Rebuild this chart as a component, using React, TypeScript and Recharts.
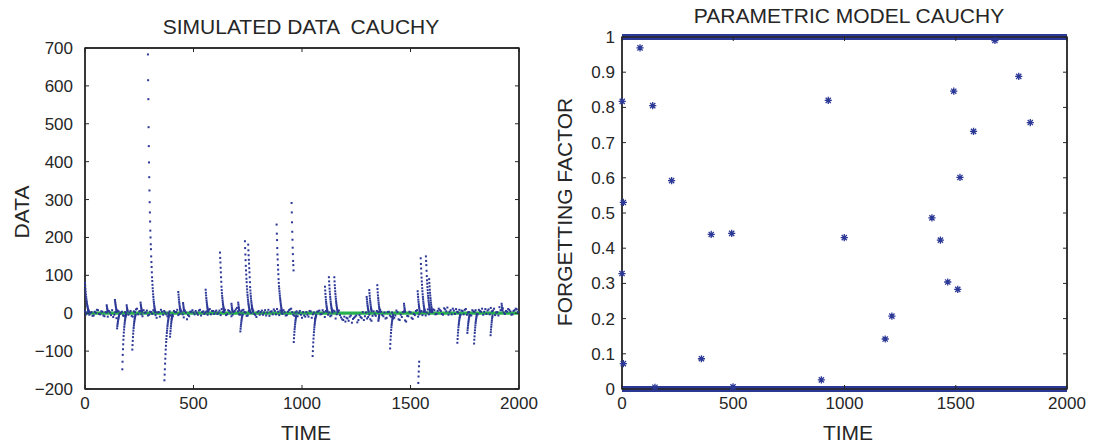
import {
  ComposedChart,
  Line,
  ReferenceArea,
  Scatter,
  XAxis,
  YAxis,
} from "recharts";

const TIME_TICKS = [0, 500, 1000, 1500, 2000];
const DATA_TICKS = [-200, -100, 0, 100, 200, 300, 400, 500, 600, 700];
const FACTOR_TICKS = [0, 0.1, 0.2, 0.3, 0.4, 0.5, 0.6, 0.7, 0.8, 0.9, 1];

// simulated data: the noisy band near zero, readings at t = 0, 10, 20 ...
const baseline = [
  5, 2, -4, 3, -6, 1, 8, -3, 4, -8, 2, 6, -5, -10, 3, 7, -2, 4, -7, 1,
  -4, 6, -9, 3, 12, 5, -3, 8, 2, -6, 4, -2, 6, -12, 3, 9, -4, 2, -8, 5,
  -14, 6, 3, -5, 10, -3, 7, -16, -8, 4, 2, 6, -4, 9, 3, -2, 5, 8, -3, 6,
  4, -2, 7, 11, 3, -5, 8, 2, -4, 6, 14, -3, 5, 9, 2, -6, 4, 12, -2, -10,
  6, 3, -4, 8, 2, -7, 5, 10, -3, 4, 7, -2, 3, -5, 8, 12, -4, 2, -8, 6,
  -12, -6, 3, -9, 5, -3, -15, 4, 7, -2, 3, 6, -4, -8, 2, 5, -3, 7, -11, -18,
  -22, -14, -9, -25, -12, -6, -18, -10, 3, -8, -14, -4, -20, 5, -7, 3, 9, -5, 2, -12,
  4, -9, -14, -6, 3, -18, -10, 5, -22, -8, 2, -15, -5, 8, -3, 6, 4, -6, 10, 5,
  3, 8, -2, 12, 6, -4, 10, 15, 4, -3, 7, 11, 2, -5, 6, 9, -4, 3, -6, 5,
  8, -3, 6, 12, 4, -2, 10, 14, 7, -5, 3, 16, 9, 2, 6, 11, 5, -3, 8, 10,
];
// ... and the readings in between, at t = 5, 15, 25 ...
const baselineMid = [
  -3, 6, 1, -7, 4, 9, -2, 5, -6, 3, -9, 2, 8, -4, -13, 5, 1, -6, 3, 7,
  2, -7, 5, 10, -3, 6, -8, 1, 7, -4, 3, 8, -5, 2, -9, 4, 6, -3, 1, -6,
  -8, 3, 9, -2, 5, -11, 2, -5, 4, 8, -3, 1, 7, -6, 5, 2, -4, 11, 6, -2,
  7, 2, -5, 4, 9, -3, 6, -8, 3, 10, 5, -4, 8, 3, -7, 6, 1, 7, -5, 3,
  -4, 7, 2, -6, 9, 4, -3, 6, 11, -5, 2, 8, -6, 4, 10, 3, -7, 5, 1, -4,
  3, -9, -4, 6, -12, 2, -7, 5, -3, 8, -10, 4, 2, -6, 7, -14, 3, -5, -16, -9,
  -12, -20, -6, -15, -9, -24, -5, -13, -18, 2, -10, -16, -7, -3, 6, -11, 4, -8, -14, 3,
  -6, 2, -12, 7, -16, -4, 3, -19, -7, 4, -12, -2, 6, -9, 3, -5, 8, 2, -3, 7,
  10, -3, 6, 9, -2, 13, 5, -4, 8, 12, -2, 4, 9, 7, -3, 11, 2, -5, 8, 4,
  -2, 9, 4, -4, 11, 7, -3, 5, 12, 2, -6, 8, 13, -2, 4, 9, -4, 6, 12, 3,
];

// outbursts: first time step and the readings that follow it step by step
const spikeStarts = [
  0, 100, 138, 148, 172, 192, 218, 256, 290, 366, 392, 430, 452, 556, 622,
  675, 706, 716, 737, 752, 883, 952, 962, 1049, 1106, 1124, 1149, 1298, 1310,
  1347, 1352, 1406, 1470, 1533, 1536, 1547, 1571, 1586, 1716, 1762, 1793,
  1869, 1920,
];
const spikeValues = [
  [80, 72, 64, 57, 50, 44, 39, 34, 30, 26, 22, 19, 16, 13, 11, 9, 7, 5, 4, 3],
  [21, 17, 13, 10, 7, 5],
  [35, 30, 26, 22, 18, 14, 11, 8, 6, 4],
  [-40, -34, -29, -25, -21, -17, -14, -11, -8, -6],
  [-148, -128, -110, -95, -82, -70, -60, -51, -43, -36, -30, -25, -20, -16, -12, -9, -6, -4],
  [21, 16, 12, 9, 6],
  [-96, -84, -73, -63, -54, -46, -39, -33, -28, -23, -19, -15, -12, -9, -6, -4],
  [28, 23, 19, 15, 12, 9, 6, 4],
  [683, 615, 565, 491, 441, 398, 359, 324, 293, 266, 242, 218, 200, 182, 169, 150, 135, 122, 108, 95, 85, 75, 66, 58, 50, 43, 36, 30, 25, 20, 16, 12, 9, 6, 4, 2],
  [-177, -162, -148, -133, -120, -108, -96, -86, -76, -68, -60, -52, -46, -40, -34, -29, -24, -20, -16, -12, -9, -6, -4],
  [-62, -54, -47, -40, -34, -28, -23, -18, -14, -10, -7, -4],
  [56, 49, 42, 36, 30, 25, 20, 16, 12, 9, 6, 4],
  [27, 22, 17, 13, 9, 6],
  [62, 54, 47, 40, 34, 29, 24, 19, 15, 12, 9, 6, 4],
  [160, 146, 134, 120, 108, 95, 83, 70, 61, 53, 46, 40, 34, 29, 24, 20, 16, 13, 10, 7, 5],
  [25, 20, 15, 11, 8, 5],
  [28, 23, 18, 14, 10, 7],
  [-48, -41, -35, -30, -25, -20, -16, -12, -9, -6, -4],
  [190, 172, 155, 140, 125, 113, 102, 91, 82, 71, 63, 55, 48, 42, 36, 31, 26, 22, 18, 15, 12, 9, 7, 5],
  [181, 166, 153, 141, 131, 119, 108, 95, 82, 69, 60, 52, 45, 39, 33, 28, 23, 19, 15, 12, 9, 6, 4],
  [234, 210, 193, 172, 155, 142, 127, 115, 103, 90, 80, 71, 65, 58, 52, 46, 40, 35, 30, 25, 21, 17, 13, 10, 7, 5],
  [291, 266, 240, 215, 194, 173, 156, 138, 127, 113],
  [-76, -66, -57, -49, -42, -36, -30, -25, -20, -16, -12, -9, -6],
  [-113, -100, -88, -77, -67, -58, -50, -43, -37, -31, -26, -21, -17, -13, -10, -7, -4],
  [70, 60, 51, 43, 36, 30, 25, 20, 16, 12, 9, 6],
  [95, 84, 74, 65, 57, 50, 43, 37, 31, 26, 22, 18, 14, 11, 8, 5],
  [95, 84, 74, 66, 58, 51, 44, 38, 32, 27, 22, 18, 14, 11, 8, 5],
  [43, 37, 31, 26, 21, 17, 13, 10, 7, 4],
  [61, 53, 46, 39, 33, 28, 23, 18, 14, 11, 8, 5],
  [74, 64, 55, 47, 40, 34, 28, 23, 18, 14, 10, 7, 4],
  [-20, -16, -12, -8, -5],
  [-93, -81, -70, -61, -52, -44, -37, -31, -26, -21, -17, -13, -10, -7, -4],
  [25, 20, 15, 11, 7, 4],
  [58, 50, 43, 36, 30, 24, 19, 14, 10, 6],
  [-184, -167, -154, -140, -128],
  [145, 130, 118, 105, 94, 84, 75, 66, 58, 50, 43, 37, 31, 26, 21, 17, 13, 10, 7, 4],
  [150, 138, 127, 112, 98, 87, 78, 69, 61, 53, 46, 40, 34, 29, 24, 20, 16, 12, 9, 6, 4],
  [90, 80, 71, 62, 54, 47, 40, 34, 28, 23, 18, 14, 10, 7, 4],
  [-78, -68, -59, -51, -44, -37, -31, -26, -21, -17, -13, -10, -7, -4],
  [-52, -45, -39, -33, -28, -23, -19, -15, -11, -8, -5],
  [-80, -70, -61, -52, -45, -38, -32, -26, -21, -17, -13, -9, -6],
  [-58, -50, -43, -36, -30, -24, -19, -14, -10, -6],
  [25, 20, 15, 11, 7],
];

// fitted model (green) stays on zero
const modelTimes = [0, 2000];
const modelValues = [0, 0];

// forgetting factor: values away from the 0 / 1 bands
const factorTimes = [
  1, 6, 0, 6, 81, 138, 148, 223, 357, 401, 493, 499, 896, 927, 999, 1183, 1213,
  1393, 1431, 1464, 1491, 1509, 1519, 1580, 1676, 1783, 1835,
];
const factorValues = [
  0.817, 0.53, 0.328, 0.072, 0.969, 0.805, 0.005, 0.592, 0.086, 0.439, 0.442,
  0.006, 0.026, 0.82, 0.43, 0.142, 0.207, 0.486, 0.423, 0.304, 0.846, 0.283,
  0.601, 0.732, 0.99, 0.888, 0.757,
];
// the factor sits at 1 or 0 almost all the time
const bandTimes = [0, 2000];
const upperBand = [1, 1];
const lowerBand = [0, 0];

const simulated = [
  ...baseline.map((v, i) => ({ t: i * 10, v })),
  ...baselineMid.map((v, i) => ({ t: i * 10 + 5, v })),
  ...spikeStarts.flatMap((start, k) =>
    spikeValues[k].map((v, i) => ({ t: start + i, v })),
  ),
];
const model = modelTimes.map((t, i) => ({ t, v: modelValues[i] }));
const factor = factorTimes.map((t, i) => ({ t, v: factorValues[i] }));
const upper = bandTimes.map((t, i) => ({ t, v: upperBand[i] }));
const lower = bandTimes.map((t, i) => ({ t, v: lowerBand[i] }));

const INK = "#262626";
const BLUE = "#2c3896";
const GREEN = "#27b14c";
const FONT = "'Liberation Sans', Arial, sans-serif";
const axisLine = { stroke: INK, strokeWidth: 1.4 };
const tickLine = { stroke: INK, strokeWidth: 1 };
const tickStyle = { fill: INK, fontSize: 17, fontFamily: FONT };

function minus(v: number): string {
  return v < 0 ? `\u2212${-v}` : String(v);
}

function SimDot(props: any) {
  return (
    <rect x={props.cx - 1} y={props.cy - 1} width={2} height={2} fill={BLUE} />
  );
}

function Star(props: any) {
  const { cx, cy } = props;
  const r = 3.6;
  const d = 2.6;
  return (
    <path
      d={`M${cx - r},${cy}H${cx + r}M${cx},${cy - r}V${cy + r}M${cx - d},${cy - d}L${cx + d},${cy + d}M${cx - d},${cy + d}L${cx + d},${cy - d}`}
      stroke={BLUE}
      strokeWidth={1.3}
      fill="none"
    />
  );
}

function Hidden() {
  return <g />;
}

export default function App() {
  return (
    <div
      style={{
        position: "absolute",
        left: 0,
        top: 0,
        width: 1096,
        height: 444,
        background: "#fff",
      }}
    >
      <div style={{ position: "absolute", left: 0, top: 0 }}>
        <ComposedChart
          width={548}
          height={444}
          margin={{ top: 47, right: 28, bottom: 0, left: 0 }}
        >
          <XAxis
            xAxisId="b"
            type="number"
            dataKey="t"
            domain={[0, 2000]}
            ticks={TIME_TICKS}
            height={55}
            tickSize={-4}
            tickMargin={12}
            axisLine={axisLine}
            tickLine={tickLine}
            tick={tickStyle}
          />
          <XAxis
            xAxisId="top"
            type="number"
            dataKey="t"
            orientation="top"
            domain={[0, 2000]}
            ticks={TIME_TICKS}
            height={1}
            tickSize={-4}
            axisLine={axisLine}
            tickLine={tickLine}
            tickFormatter={() => ""}
          />
          <YAxis
            yAxisId="l"
            type="number"
            dataKey="v"
            domain={[-200, 700]}
            ticks={DATA_TICKS}
            width={85}
            tickSize={-4}
            tickMargin={16}
            axisLine={axisLine}
            tickLine={tickLine}
            tick={tickStyle}
            tickFormatter={minus}
          />
          <YAxis
            yAxisId="r"
            type="number"
            dataKey="v"
            orientation="right"
            domain={[-200, 700]}
            ticks={DATA_TICKS}
            width={1}
            tickSize={-4}
            axisLine={axisLine}
            tickLine={tickLine}
            tickFormatter={() => ""}
          />
          <ReferenceArea
            xAxisId="b"
            yAxisId="l"
            x1={0}
            x2={2000}
            y1={-200}
            y2={700}
            fill="none"
            stroke={INK}
            strokeWidth={1.4}
          />
          <Scatter
            xAxisId="top"
            yAxisId="r"
            data={model}
            shape={Hidden}
            isAnimationActive={false}
          />
          <Scatter
            xAxisId="b"
            yAxisId="l"
            data={simulated}
            shape={SimDot}
            isAnimationActive={false}
          />
          <Line
            xAxisId="b"
            yAxisId="l"
            data={model}
            dataKey="v"
            stroke={GREEN}
            strokeWidth={3.2}
            dot={false}
            isAnimationActive={false}
          />
        </ComposedChart>
      </div>

      <div style={{ position: "absolute", left: 548, top: 0 }}>
        <ComposedChart
          width={548}
          height={444}
          margin={{ top: 36, right: 28, bottom: 0, left: 0 }}
        >
          <XAxis
            xAxisId="b"
            type="number"
            dataKey="t"
            domain={[0, 2000]}
            ticks={TIME_TICKS}
            height={55}
            tickSize={-4}
            tickMargin={12}
            axisLine={axisLine}
            tickLine={tickLine}
            tick={tickStyle}
          />
          <XAxis
            xAxisId="top"
            type="number"
            dataKey="t"
            orientation="top"
            domain={[0, 2000]}
            ticks={TIME_TICKS}
            height={1}
            tickSize={-4}
            axisLine={axisLine}
            tickLine={tickLine}
            tickFormatter={() => ""}
          />
          <YAxis
            yAxisId="l"
            type="number"
            dataKey="v"
            domain={[0, 1]}
            ticks={FACTOR_TICKS}
            width={74}
            tickSize={-4}
            tickMargin={11}
            axisLine={axisLine}
            tickLine={tickLine}
            tick={tickStyle}
          />
          <YAxis
            yAxisId="r"
            type="number"
            dataKey="v"
            orientation="right"
            domain={[0, 1]}
            ticks={FACTOR_TICKS}
            width={1}
            tickSize={-4}
            axisLine={axisLine}
            tickLine={tickLine}
            tickFormatter={() => ""}
          />
          <ReferenceArea
            xAxisId="b"
            yAxisId="l"
            x1={0}
            x2={2000}
            y1={0}
            y2={1}
            fill="none"
            stroke={INK}
            strokeWidth={1.4}
          />
          <Scatter
            xAxisId="top"
            yAxisId="r"
            data={upper}
            shape={Hidden}
            isAnimationActive={false}
          />
          <Line
            xAxisId="b"
            yAxisId="l"
            data={upper}
            dataKey="v"
            stroke={BLUE}
            strokeWidth={6}
            dot={false}
            isAnimationActive={false}
          />
          <Line
            xAxisId="b"
            yAxisId="l"
            data={lower}
            dataKey="v"
            stroke={BLUE}
            strokeWidth={6}
            dot={false}
            isAnimationActive={false}
          />
          <Scatter
            xAxisId="b"
            yAxisId="l"
            data={factor}
            shape={Star}
            isAnimationActive={false}
          />
        </ComposedChart>
      </div>

      <svg
        width={1096}
        height={444}
        style={{ position: "absolute", left: 0, top: 0, pointerEvents: "none" }}
        fontFamily={FONT}
        fill={INK}
      >
        <text x={301} y={34} fontSize={21} textAnchor="middle" xmlSpace="preserve">
          SIMULATED DATA  CAUCHY
        </text>
        <text x={849} y={23} fontSize={21} textAnchor="middle">
          PARAMETRIC MODEL CAUCHY
        </text>
        <text x={306} y={440} fontSize={21} textAnchor="middle">
          TIME
        </text>
        <text x={848} y={440} fontSize={21} textAnchor="middle">
          TIME
        </text>
        <text
          x={0}
          y={0}
          fontSize={21}
          textAnchor="middle"
          transform="translate(29,212) rotate(-90)"
        >
          DATA
        </text>
        <text
          x={0}
          y={0}
          fontSize={21}
          textAnchor="middle"
          transform="translate(572,212) rotate(-90)"
        >
          FORGETTING FACTOR
        </text>
      </svg>
    </div>
  );
}
